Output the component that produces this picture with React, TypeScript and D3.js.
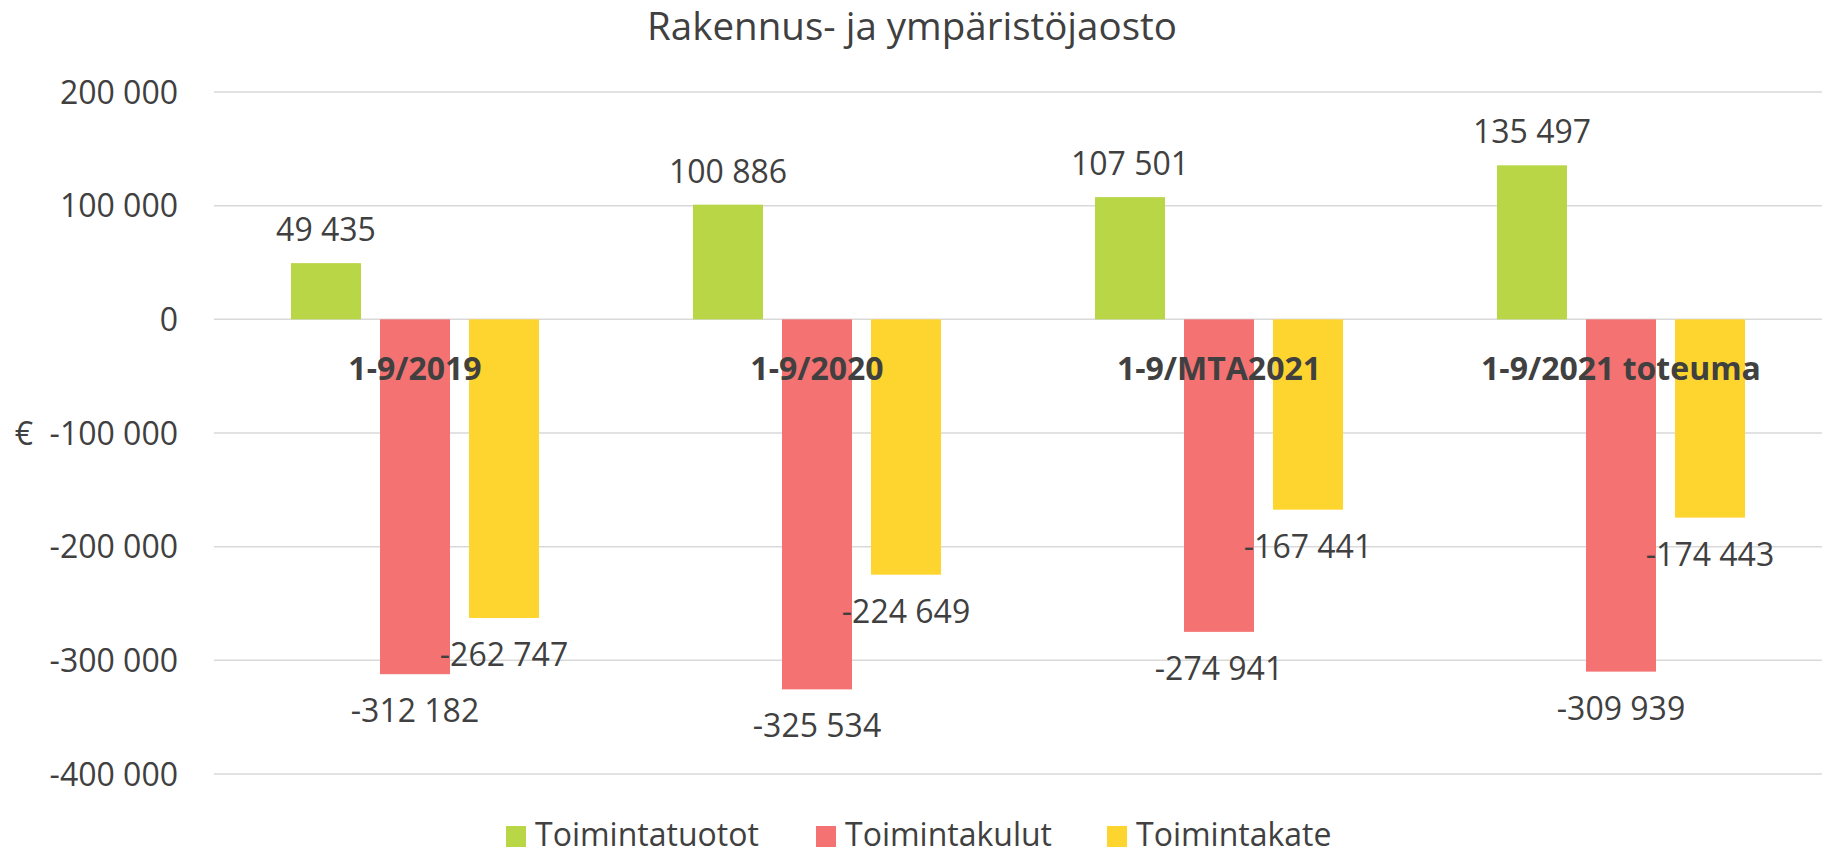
import React, { useEffect } from 'react';
import * as d3 from 'd3';

const categories = ['1-9/2019', '1-9/2020', '1-9/MTA2021', '1-9/2021 toteuma'];
const seriesNames = ['Toimintatuotot', 'Toimintakulut', 'Toimintakate'];
const toimintatuotot = [49435, 100886, 107501, 135497];
const toimintakulut = [-312182, -325534, -274941, -309939];
const toimintakate = [-262747, -224649, -167441, -174443];
const yTicks = [200000, 100000, 0, -100000, -200000, -300000, -400000];
const colors = ['#B9D646', '#F57272', '#FED42E'];

const W = 1825;
const H = 855;
const font = '"Open Sans", sans-serif';
const textColor = '#404040';

const fmt = (v: number) => {
  const s = Math.abs(v).toString().replace(/\B(?=(\d{3})+(?!\d))/g, ' ');
  return (v < 0 ? '-' : '') + s;
};

const App = () => {
  useEffect(() => {
    document.body.style.margin = '0';
  }, []);

  const values = [toimintatuotot, toimintakulut, toimintakate];

  const x0 = d3.scaleBand<string>()
    .domain(categories)
    .range([214, 1822])
    .paddingInner(0.383)
    .paddingOuter(0.1915);

  const x1 = d3.scaleBand<string>()
    .domain(seriesNames)
    .range([0, x0.bandwidth()])
    .paddingInner(0.2135)
    .paddingOuter(0);

  const y = d3.scaleLinear().domain([-400000, 200000]).range([774, 92]);

  return (
    <svg width={W} height={H} style={{ display: 'block', background: '#fff' }} fontFamily={font}>
      {/* title */}
      <text x={912} y={40} textAnchor="middle" fontSize={38.5} fill={textColor}>
        Rakennus- ja ympäristöjaosto
      </text>

      {/* gridlines and y ticks */}
      {yTicks.map(t => (
        <g key={t}>
          <line x1={214} x2={1822} y1={y(t)} y2={y(t)} stroke="#D9D9D9" strokeWidth={1.5} />
          <text x={178} y={y(t) + 11.5} textAnchor="end" fontSize={32} fill={textColor}>
            {fmt(t)}
          </text>
        </g>
      ))}

      {/* axis title */}
      <text x={24} y={y(-100000) + 11.5} textAnchor="middle" fontSize={32} fill={textColor}>€</text>

      {/* bars */}
      {categories.map((c, ci) => (
        <g key={c} transform={`translate(${x0(c)},0)`}>
          {seriesNames.map((s, si) => {
            const v = values[si][ci];
            return (
              <rect
                key={s}
                x={x1(s)}
                y={Math.min(y(v), y(0))}
                width={x1.bandwidth()}
                height={Math.abs(y(v) - y(0))}
                fill={colors[si]}
              />
            );
          })}
        </g>
      ))}

      {/* category labels */}
      {categories.map(c => (
        <text
          key={c}
          x={(x0(c) as number) + x0.bandwidth() / 2}
          y={380}
          textAnchor="middle"
          fontSize={32}
          fontWeight="bold"
          fill={textColor}
        >
          {c}
        </text>
      ))}

      {/* value labels */}
      {categories.map((c, ci) => (
        <g key={c} transform={`translate(${x0(c)},0)`}>
          {seriesNames.map((s, si) => {
            const v = values[si][ci];
            const cx = (x1(s) as number) + x1.bandwidth() / 2;
            const ty = v >= 0 ? y(v) - 22 : y(v) + 48;
            return (
              <text key={s} x={cx} y={ty} textAnchor="middle" fontSize={32} fill={textColor}>
                {fmt(v)}
              </text>
            );
          })}
        </g>
      ))}

      {/* legend */}
      {[506, 816, 1107].map((lx, i) => (
        <g key={seriesNames[i]}>
          <rect x={lx} y={826} width={20} height={21} fill={colors[i]} />
          <text x={lx + 29} y={846} fontSize={32} fill={textColor}>{seriesNames[i]}</text>
        </g>
      ))}
    </svg>
  );
};

export default App;
